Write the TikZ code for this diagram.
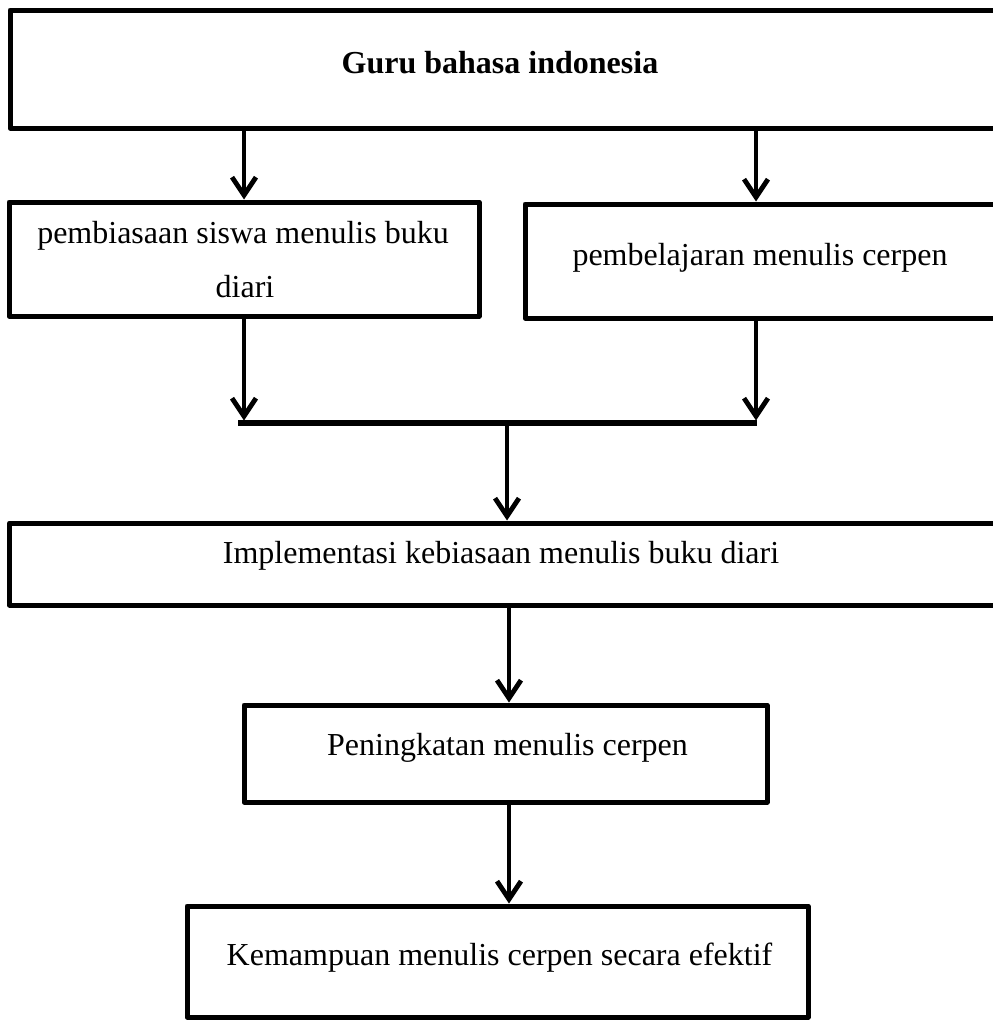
\documentclass[tikz,border=0pt]{standalone}
\usepackage{fontspec}
\setmainfont{Liberation Serif}
\usetikzlibrary{arrows.meta}
\begin{document}
\begin{tikzpicture}[x=1pt,y=-1pt,
  box/.style={draw=black, line width=5pt, line join=round, rectangle, inner sep=0pt, anchor=center},
  txt/.style={font=\fontsize{32}{38}\selectfont, anchor=base, inner sep=0pt},
  arr/.style={draw=black, line width=4.8pt, -{Straight Barb[length=18pt,width=24pt]}},
  barline/.style={draw=black, line width=5.5pt}]
\useasboundingbox (0,0) rectangle (993,1020);
\clip (0,0) rectangle (993,1020);
% boxes
\node[box, minimum width=994pt, minimum height=118pt] (top) at (507,69) {};
\node[box, minimum width=470pt, minimum height=114pt] (left) at (244,259) {};
\node[box, minimum width=479pt, minimum height=114pt] (right) at (764.5,261) {};
\node[box, minimum width=994.5pt, minimum height=82pt] (impl) at (506.75,564) {};
\node[box, minimum width=523pt, minimum height=97pt] (pen) at (505.5,753.5) {};
\node[box, minimum width=621pt, minimum height=111pt] (kem) at (497.5,961.5) {};
% texts
\node[txt, font=\fontsize{32}{38}\selectfont\bfseries] (topT) at (500,73) {Guru bahasa indonesia};
\node[txt] (leftT1) at (243,243) {pembiasaan siswa menulis buku};
\node[txt] (leftT2) at (245,297) {diari};
\node[txt] (rightT) at (760,265) {pembelajaran menulis cerpen};
\node[txt] (implT) at (501,563) {Implementasi kebiasaan menulis buku diari};
\node[txt] (penT) at (507.5,755) {Peningkatan menulis cerpen};
\node[txt] (kemT) at (499.5,965) {Kemampuan menulis cerpen secara efektif};
% helper coordinates
\coordinate (cR) at (756,0);
\coordinate (barL) at (238,423);
\coordinate (barR) at (757,423);
\coordinate (barM) at (507,423);
\coordinate (cM) at (509,0);
% connectors
\draw[arr] (left.north |- top.south) -- (left.north);
\draw[arr] (cR |- top.south) -- (cR |- right.north);
\draw[arr, shorten >=2.5pt] (left.south) -- (left.south |- barL);
\draw[arr, shorten >=2.5pt] (cR |- right.south) -- (cR |- barL);
\draw[barline] (barL) -- (barR);
\draw[arr] (barM) -- (barM |- impl.north);
\draw[arr] (cM |- impl.south) -- (cM |- pen.north);
\draw[arr] (cM |- pen.south) -- (cM |- kem.north);
\end{tikzpicture}
\end{document}
